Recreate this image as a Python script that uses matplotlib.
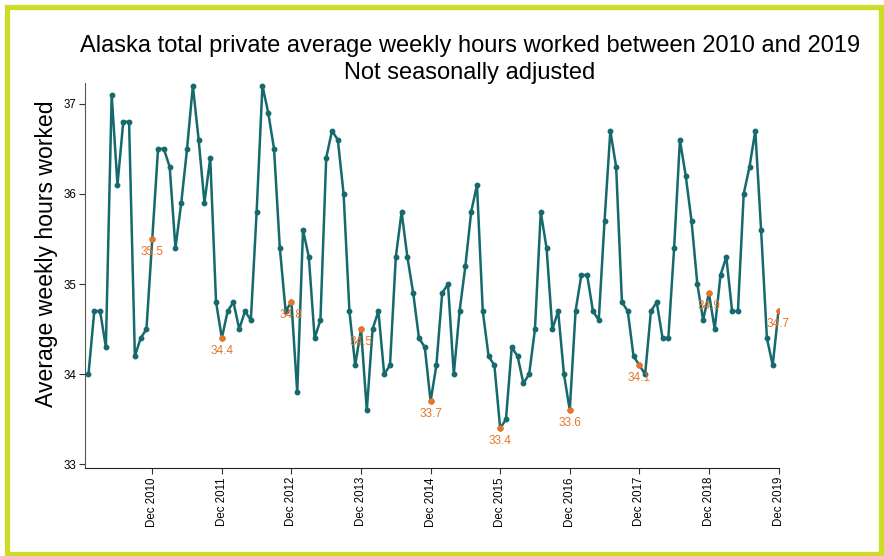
import numpy as np
import matplotlib.pyplot as plt
from matplotlib.patches import Rectangle

plt.rcParams['font.family'] = ['Liberation Sans', 'DejaVu Sans']

# monthly values, Jan 2010 - Dec 2019
hours_2010 = [34.0, 34.7, 34.7, 34.3, 37.1, 36.1, 36.8, 36.8, 34.2, 34.4, 34.5, 35.5]
hours_2011 = [36.5, 36.5, 36.3, 35.4, 35.9, 36.5, 37.2, 36.6, 35.9, 36.4, 34.8, 34.4]
hours_2012 = [34.7, 34.8, 34.5, 34.7, 34.6, 35.8, 37.2, 36.9, 36.5, 35.4, 34.7, 34.8]
hours_2013 = [33.8, 35.6, 35.3, 34.4, 34.6, 36.4, 36.7, 36.6, 36.0, 34.7, 34.1, 34.5]
hours_2014 = [33.6, 34.5, 34.7, 34.0, 34.1, 35.3, 35.8, 35.3, 34.9, 34.4, 34.3, 33.7]
hours_2015 = [34.1, 34.9, 35.0, 34.0, 34.7, 35.2, 35.8, 36.1, 34.7, 34.2, 34.1, 33.4]
hours_2016 = [33.5, 34.3, 34.2, 33.9, 34.0, 34.5, 35.8, 35.4, 34.5, 34.7, 34.0, 33.6]
hours_2017 = [34.7, 35.1, 35.1, 34.7, 34.6, 35.7, 36.7, 36.3, 34.8, 34.7, 34.2, 34.1]
hours_2018 = [34.0, 34.7, 34.8, 34.4, 34.4, 35.4, 36.6, 36.2, 35.7, 35.0, 34.6, 34.9]
hours_2019 = [34.5, 35.1, 35.3, 34.7, 34.7, 36.0, 36.3, 36.7, 35.6, 34.4, 34.1, 34.7]

years = list(range(2010, 2020))
tick_labels = [f'Dec {y}' for y in years]

hours = np.array(hours_2010 + hours_2011 + hours_2012 + hours_2013 + hours_2014
                 + hours_2015 + hours_2016 + hours_2017 + hours_2018 + hours_2019)
months = np.arange(len(hours))
dec_idx = months[11::12]

teal = '#16696c'
orange = '#e8742a'

fig = plt.figure(figsize=(8.84, 5.56), dpi=100)
ax = fig.add_axes([85/884, 1 - 468/556, (778.5 - 85)/884, (468 - 83)/556])

ax.plot(months, hours, color=teal, lw=1.8, marker='o', ms=3.2, zorder=2)
ax.plot(dec_idx, hours[dec_idx], 'o', color=orange, ms=3.6, zorder=3)
for i in dec_idx:
    ax.annotate(f'{hours[i]:.1f}', (i, hours[i]), xytext=(0, -5),
                textcoords='offset points', ha='center', va='top',
                color=orange, fontsize=8.5, zorder=4)

ax.set_xlim(-0.6, 119)
ax.set_ylim(32.96, 37.23)
ax.set_xticks(dec_idx)
ax.set_xticklabels(tick_labels, rotation=90, fontsize=8.3)
ax.set_yticks([33, 34, 35, 36, 37])
ax.set_yticklabels(['33', '34', '35', '36', '37'], fontsize=8.3)
ax.tick_params(length=4, width=0.8, color='#333333', pad=2.5)

for s in ['top', 'right']:
    ax.spines[s].set_visible(False)
ax.spines['left'].set_color('#555555')
ax.spines['bottom'].set_color('#222222')

fig.text(47/884, 1 - 254/556, 'Average weekly hours worked', rotation=90,
         ha='center', va='center', fontsize=16.6)

fig.text(470/884, 1 - 46/556, 'Alaska total private average weekly hours worked between 2010 and 2019',
         ha='center', va='center', fontsize=17)
fig.text(470/884, 1 - 73/556, 'Not seasonally adjusted', ha='center', va='center', fontsize=17)

# lime frame round the picture
fig.patches.append(Rectangle((7.5/884, 2/556), (881 - 7.5)/884, (549.5 - 2)/556,
                             transform=fig.transFigure, fill=False,
                             edgecolor='#cddc29', lw=3.8))

fig.savefig('out.png', dpi=100)
plt.close(fig)
